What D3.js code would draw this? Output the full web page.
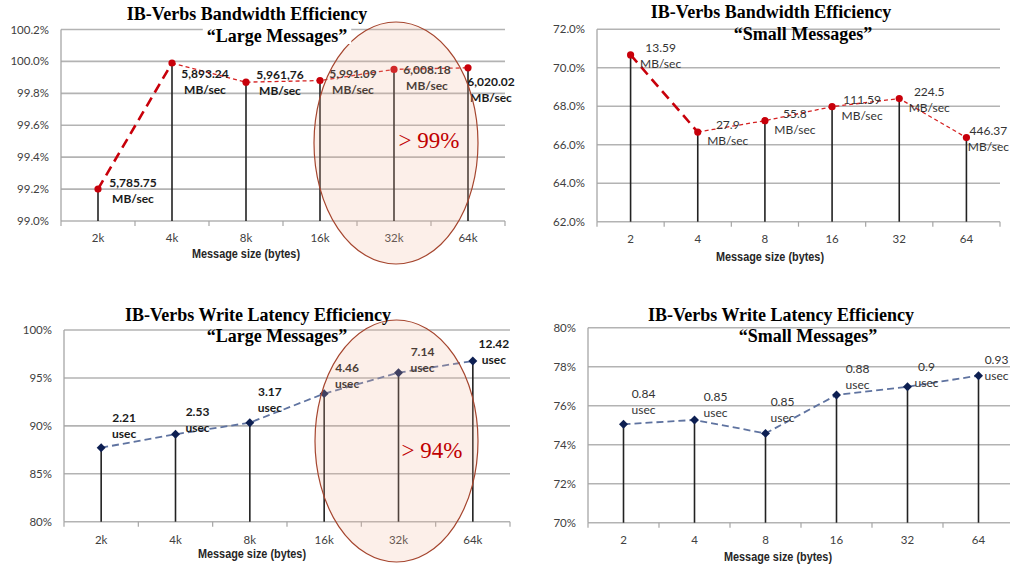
<!DOCTYPE html>
<meta charset="utf-8">
<title>IB-Verbs Efficiency</title>
<script src="https://d3js.org/d3.v7.min.js"></script>
<style>
  body { margin: 0; background: #fff; }
</style>
<body>
<div id="viz"></div>
<script>
// message sizes
const sizesLarge = ["2k", "4k", "8k", "16k", "32k", "64k"];
const sizesSmall = ["2", "4", "8", "16", "32", "64"];

// bandwidth efficiency (%) and measured bandwidth
const bwLargeEff = [99.20, 99.99, 99.87, 99.88, 99.95, 99.96];
const bwLargeVals = ["5,785.75", "5,893.24", "5,961,76", "5,991.09", "6,008.18", "6,020.02"];
const bwSmallEff = [70.67, 66.66, 67.25, 67.98, 68.40, 66.37];
const bwSmallVals = ["13.59", "27.9", "55.8", "111.59", "224.5", "446.37"];

// write latency efficiency (%) and measured latency
const latLargeEff = [87.72, 89.12, 90.33, 93.36, 95.55, 96.77];
const latLargeVals = ["2.21", "2.53", "3.17", "4.46", "7.14", "12.42"];
const latSmallEff = [75.05, 75.27, 74.58, 76.55, 76.97, 77.54];
const latSmallVals = ["0.84", "0.85", "0.85", "0.88", "0.9", "0.93"];

// y tick values
const bwLargeTicks = [99.0, 99.2, 99.4, 99.6, 99.8, 100.0, 100.2];
const bwSmallTicks = [62, 64, 66, 68, 70, 72];
const latLargeTicks = [80, 85, 90, 95, 100];
const latSmallTicks = [70, 72, 74, 76, 78, 80];

const SANS = "Lato, 'Open Sans', sans-serif";
const SERIF = "'Liberation Serif', 'DejaVu Serif', serif";
const NARROW = "'Liberation Sans Narrow', 'Liberation Sans', sans-serif";

const svg = d3.select("#viz").append("svg")
  .attr("width", 1010)
  .attr("height", 565);

const panels = [
  {
    title: "IB-Verbs Bandwidth Efficiency", sub: "\u201cLarge Messages\u201d",
    cats: sizesLarge, eff: bwLargeEff, vals: bwLargeVals, unit: "MB/sec",
    ticks: bwLargeTicks, fmt: d3.format(".1f"),
    x: [61, 505], y: [221, 29.5], t1: [247, 20], t2: [277, 42], mask: true,
    tickY: 242, axisTitle: [246, 258],
    red: true, bold: true,
    nudge: [[35, -2], [33, 15], [34, -3], [33, -3], [33, 5], [23, 18]],
    oval: {cx: 396, cy: 143, rx: 82, ry: 121, text: "> 99%", tx: 429, ty: 148}
  },
  {
    title: "IB-Verbs Bandwidth Efficiency", sub: "\u201cSmall Messages\u201d",
    cats: sizesSmall, eff: bwSmallEff, vals: bwSmallVals, unit: "MB/sec",
    ticks: bwSmallTicks, fmt: d3.format(".1f"),
    x: [597, 1000], y: [221.7, 29.3], t1: [771, 18], t2: [803, 40],
    tickY: 243, axisTitle: [770, 261],
    red: true, bold: false,
    nudge: [[30, -3], [30, -3], [30, -3], [30, -3], [30, -3], [22, -3]]
  },
  {
    title: "IB-Verbs Write Latency Efficiency", sub: "\u201cLarge Messages\u201d",
    cats: sizesLarge, eff: latLargeEff, vals: latLargeVals, unit: "usec",
    ticks: latLargeTicks, fmt: d3.format("d"),
    x: [64, 510], y: [521.7, 330], t1: [258, 321], t2: [277, 342],
    tickY: 544, axisTitle: [252, 558],
    red: false, bold: true,
    nudge: [[23, -26], [22, -18], [20, -27], [23, -22], [24, -17], [21, -13]],
    oval: {cx: 396.5, cy: 441, rx: 81.5, ry: 121, text: "> 94%", tx: 432, ty: 458}
  },
  {
    title: "IB-Verbs Write Latency Efficiency", sub: "\u201cSmall Messages\u201d",
    cats: sizesSmall, eff: latSmallEff, vals: latSmallVals, unit: "usec",
    ticks: latSmallTicks, fmt: d3.format("d"),
    x: [588, 1014], y: [522.7, 327.7], t1: [781, 321], t2: [808, 342],
    tickY: 544, axisTitle: [778, 561],
    red: false, bold: false,
    nudge: [[20, -26], [21, -19], [17, -27], [21, -22], [19, -16], [18, -12]]
  }
];

panels.forEach(p => {
  const g = svg.append("g");
  const x = d3.scaleBand().domain(p.cats).range(p.x);
  const y = d3.scaleLinear()
    .domain([p.ticks[0], p.ticks[p.ticks.length - 1]])
    .range(p.y);
  const cx = d => x(d) + x.bandwidth() / 2;

  // gridlines
  g.selectAll(".grid").data(p.ticks).join("line")
    .attr("x1", p.x[0]).attr("x2", p.x[1])
    .attr("y1", d => y(d)).attr("y2", d => y(d))
    .attr("stroke", "#b3b3b3").attr("stroke-width", 1.6);

  // y axis line + labels
  g.append("line")
    .attr("x1", p.x[0]).attr("x2", p.x[0])
    .attr("y1", p.y[1]).attr("y2", p.y[0])
    .attr("stroke", "#a6a6a6").attr("stroke-width", 1.3);
  g.selectAll(".ylab").data(p.ticks).join("text")
    .attr("x", p.x[0] - 12)
    .attr("y", d => y(d) + 4)
    .attr("text-anchor", "end")
    .style("font-family", SANS)
    .attr("font-size", 11.5)
    .attr("fill", "#404040")
    .text(d => p.fmt(d) + "%");

  // x ticks at band edges
  const edges = p.cats.map(d => x(d)).concat([p.x[1]]);
  g.selectAll(".xt").data(edges).join("line")
    .attr("x1", d => d).attr("x2", d => d)
    .attr("y1", p.y[0]).attr("y2", p.y[0] + 5)
    .attr("stroke", "#a6a6a6").attr("stroke-width", 1.2);
  g.selectAll(".xlab").data(p.cats).join("text")
    .attr("x", cx)
    .attr("y", p.tickY)
    .attr("text-anchor", "middle")
    .style("font-family", SANS)
    .attr("font-size", 11.5)
    .attr("fill", "#404040")
    .text(d => d);
  g.append("text")
    .attr("x", p.axisTitle[0]).attr("y", p.axisTitle[1])
    .attr("text-anchor", "middle")
    .style("font-family", NARROW)
    .attr("font-weight", "bold")
    .attr("font-size", 12)
    .attr("textLength", 108)
    .attr("lengthAdjust", "spacingAndGlyphs")
    .attr("fill", "#262626")
    .text("Message size (bytes)");

  // stems
  const pts = p.cats.map((c, i) => ({c, v: p.eff[i], lab: p.vals[i], n: p.nudge[i]}));
  g.selectAll(".stem").data(pts).join("line")
    .attr("x1", d => cx(d.c)).attr("x2", d => cx(d.c))
    .attr("y1", d => y(d.v)).attr("y2", p.y[0])
    .attr("stroke", "#222").attr("stroke-width", 1.6);

  // dashed connecting line
  const line = d3.line().x(d => cx(d.c)).y(d => y(d.v));
  if (p.red) {
    g.append("path").attr("d", line(pts.slice(0, 2)))
      .attr("fill", "none").attr("stroke", "#c8000a")
      .attr("stroke-width", 2.6).attr("stroke-dasharray", "10,6");
    g.append("path").attr("d", line(pts.slice(1)))
      .attr("fill", "none").attr("stroke", "#d42020")
      .attr("stroke-width", 1.3).attr("stroke-dasharray", "4,3");
    g.selectAll(".pt").data(pts).join("circle")
      .attr("cx", d => cx(d.c)).attr("cy", d => y(d.v))
      .attr("r", 3.6).attr("fill", "#c8000a");
  } else {
    g.append("path").attr("d", line(pts))
      .attr("fill", "none").attr("stroke", "#5f73a0")
      .attr("stroke-width", 1.8).attr("stroke-dasharray", "7,4");
    g.selectAll(".pt").data(pts).join("path")
      .attr("transform", d => `translate(${cx(d.c)},${y(d.v)}) rotate(45)`)
      .attr("d", d3.symbol(d3.symbolSquare, 40))
      .attr("fill", "#0d1f52");
  }

  // data labels
  const lab = g.selectAll(".lab").data(pts).join("text")
    .attr("text-anchor", "middle")
    .style("font-family", SANS)
    .attr("font-size", 12)
    .attr("font-weight", p.bold ? "bold" : "normal")
    .attr("fill", p.bold ? "#1a1a1a" : "#333");
  lab.append("tspan")
    .attr("x", d => cx(d.c) + d.n[0])
    .attr("y", d => y(d.v) + d.n[1])
    .text(d => d.lab);
  lab.append("tspan")
    .attr("x", d => cx(d.c) + d.n[0])
    .attr("y", d => y(d.v) + d.n[1] + 16)
    .text(p.unit);

  // highlighted range
  if (p.oval) {
    g.append("ellipse")
      .attr("cx", p.oval.cx).attr("cy", p.oval.cy)
      .attr("rx", p.oval.rx).attr("ry", p.oval.ry)
      .attr("fill", "rgba(240,180,155,0.22)")
      .attr("stroke", "#a5452e").attr("stroke-width", 1.2);
    g.append("text")
      .attr("x", p.oval.tx).attr("y", p.oval.ty)
      .attr("text-anchor", "middle")
      .style("font-family", SERIF)
      .attr("font-size", 23)
      .attr("fill", "#c00000")
      .text(p.oval.text);
  }

  // titles
  const t2 = g.append("text")
    .attr("x", p.t2[0]).attr("y", p.t2[1])
    .attr("text-anchor", "middle")
    .style("font-family", SERIF)
    .attr("font-weight", "bold")
    .attr("font-size", 18)
    .attr("fill", "#000")
    .text(p.sub);
  if (p.mask) {
    const b = t2.node().getBBox();
    g.insert("rect", () => t2.node())
      .attr("x", b.x - 4).attr("y", b.y + 2)
      .attr("width", b.width + 8).attr("height", b.height - 4)
      .attr("fill", "#fff");
  }
  g.append("text")
    .attr("x", p.t1[0]).attr("y", p.t1[1])
    .attr("text-anchor", "middle")
    .style("font-family", SERIF)
    .attr("font-weight", "bold")
    .attr("font-size", 18)
    .attr("fill", "#000")
    .text(p.title);
});
</script>
</body>
